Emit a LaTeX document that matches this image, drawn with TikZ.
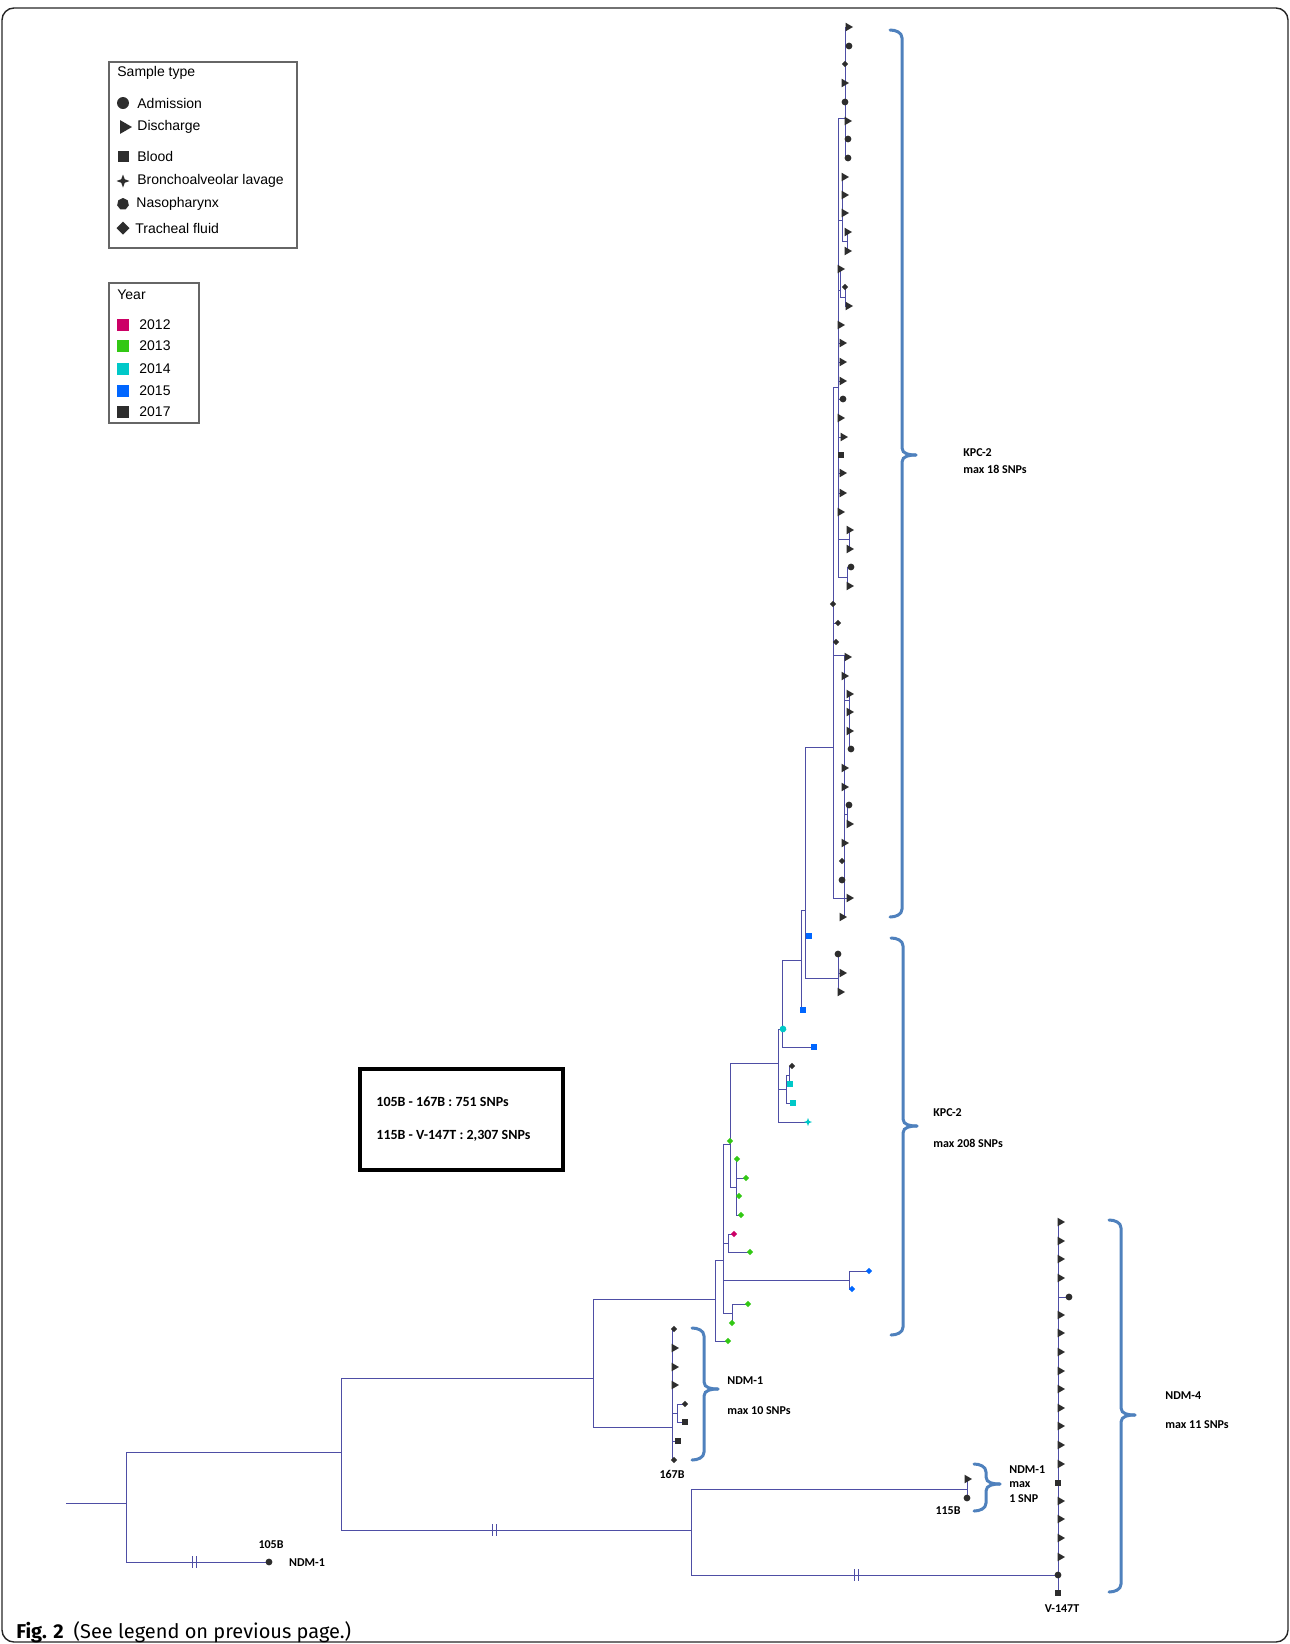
\documentclass[tikz,border=0pt]{standalone}
\usepackage{fontspec}
\setmainfont{Liberation Sans}
\newfontfamily\lblfont{Carlito}
\newfontfamily\capfont{Fira Sans}
\usepackage{tikz}
\usetikzlibrary{shapes.geometric}
\usetikzlibrary{calc,backgrounds}

\definecolor{branch}{RGB}{78,78,165}
\definecolor{bracecol}{RGB}{79,129,189}
\definecolor{c12}{RGB}{204,0,102}
\definecolor{c13}{RGB}{50,200,20}
\definecolor{c14}{RGB}{0,200,200}
\definecolor{c15}{RGB}{0,102,255}
\definecolor{c17}{RGB}{45,45,45}

\tikzset{
  br/.style={draw=branch, line width=0.5pt},
  brc/.style={draw=bracecol, line width=1.5pt, line cap=round},
  leaf/.style={inner sep=0pt, outer sep=0pt, draw=none, fill=c17},
  dis/.style={leaf, regular polygon, regular polygon sides=3, shape border rotate=-90, minimum size=#1},
  dis/.default=5pt,
  adm/.style={leaf, circle, minimum size=#1},
  adm/.default=3.4pt,
  trf/.style={leaf, diamond, minimum size=#1},
  trf/.default=3.2pt,
  bld/.style={leaf, rectangle, minimum size=#1},
  bld/.default=3.3pt,
  nas/.style={leaf, regular polygon, regular polygon sides=7, minimum size=#1},
  nas/.default=3.4pt,
  bal/.style={leaf, star, star points=4, star point ratio=2.6, minimum size=#1},
  bal/.default=4pt,
  dg/.style={trf, fill=c13},
  dr/.style={trf, fill=c12},
  db/.style={trf, fill=c15},
  sqb/.style={bld, fill=c15},
  sqc/.style={bld, fill=c14},
  hxc/.style={nas, fill=c14},
  plc/.style={bal, fill=c14},
  lgbox/.style={draw=black!60, line width=0.7pt},
  lgtxt/.style={anchor=west, inner sep=0pt, font=\fontsize{7}{8}\selectfont},
  lbl/.style={anchor=west, inner sep=0pt, font=\lblfont\bfseries\fontsize{6}{7}\selectfont},
}

% curly bracket: x of the bar, top, middle, bottom
\newcommand{\snpbrace}[4]{%
  \draw[brc] (#1-12,#2) to[out=0,in=90] (#1,#2+8) -- (#1,#3-7) to[out=-90,in=180] (#1+14,#3);
  \draw[brc] (#1+14,#3) to[out=180,in=90] (#1,#3+7) -- (#1,#4-8) to[out=-90,in=0] (#1-12,#4);
}
% break mark on a long branch
\newcommand{\brk}[2]{%
  \draw[br] (#1-2,#2-6) -- (#1-2,#2+6) (#1+2,#2-6) -- (#1+2,#2+6);
}

\begin{document}
\begin{tikzpicture}[x=0.5pt, y=-0.5pt]
\useasboundingbox (0,0) rectangle (1290,1644);
\draw[black!85, line width=0.7pt, rounded corners=6pt] (2,8) rectangle (1288,1642);

% legends
\draw[lgbox] (109,62) rectangle (297,248);
\node[lgtxt] (st) at (117,73) {Sample type};
\node[adm=6pt] (lg1) at (123,103) {};
\node[lgtxt] at (137,103) {Admission};
\node[dis=8pt] (lg2) at (124,127) {};
\node[lgtxt] at (137,127) {Discharge};
\node[bld=5.5pt] (lg3) at (123,156) {};
\node[lgtxt] at (137,156) {Blood};
\node[bal=6.5pt] (lg4) at (123,181) {};
\node[lgtxt] at (137,181) {Bronchoalveolar lavage};
\node[nas=6pt] (lg5) at (123,204) {};
\node[lgtxt] at (136,204) {Nasopharynx};
\node[trf=6.5pt] (lg6) at (123,228) {};
\node[lgtxt] at (135,228) {Tracheal fluid};

\draw[lgbox] (109,283) rectangle (199,423);
\node[lgtxt] (yr) at (117,295) {Year};
\foreach \c/\t/\y in {c12/2012/325, c13/2013/346, c14/2014/369, c15/2015/391, c17/2017/412} {
  \node[leaf, fill=\c, minimum size=6pt] (yr\t) at (123,\y) {};
  \node[lgtxt] at (139,\y) {\t};
}

% distances
\draw[black, line width=2pt] (360,1069) rectangle (563,1170);
\node[anchor=west, inner sep=0pt, font=\lblfont\bfseries\fontsize{7}{8}\selectfont] (d1) at (376,1102) {105B - 167B : 751 SNPs};
\node[anchor=west, inner sep=0pt, font=\lblfont\bfseries\fontsize{7}{8}\selectfont] (d2) at (376,1136) {115B - V-147T : 2,307 SNPs};

% inner nodes
\coordinate (start) at (66,1503);
\coordinate (root) at (126,1503);
\coordinate (a1) at (341,1452);
\coordinate (a2) at (593,1378);
\coordinate (a3) at (691,1530);
\coordinate (n167) at (672,1427);
\coordinate (kA) at (715,1299);
\coordinate (kB) at (723,1260);
\coordinate (kC) at (730,1144);
\coordinate (kO) at (736,1187);
\coordinate (kR) at (728,1243);
\coordinate (kBl) at (849,1280);
\coordinate (kD) at (732,1313);
\coordinate (kE) at (778,1063);
\coordinate (kN) at (782,1029);
\coordinate (kF) at (786,1089);
\coordinate (kF2) at (789,1075);
\coordinate (kG) at (801,960);
\coordinate (kH) at (805,910);
\coordinate (kI) at (838,978);
\coordinate (kJ) at (833,747);
\coordinate (kK) at (838,387);
\coordinate (kK1) at (845,118);
\coordinate (kK2) at (842,220);
\coordinate (kK2b) at (847,241);
\coordinate (kK3) at (840,290);
\coordinate (kK3b) at (845,297);
\coordinate (kK4) at (849,539);
\coordinate (kK5) at (847,577);
\coordinate (kM) at (844,655);
\coordinate (kM1) at (849,700);
\coordinate (kM2) at (847,814);
\coordinate (kQ) at (677,1413);
\coordinate (n115) at (967,1489);
\coordinate (nV) at (1058,1575);

\draw[br] (start) -- (root);
\foreach \p/\c in {root/a1, a1/a2, a1/a3, a2/n167, a2/kA, kA/kB, kB/kC, kB/kR, kB/kBl, kB/kD,
    kC/kE, kC/kO, kE/kN, kE/kF, kF/kF2, kN/kG, kG/kH, kH/kJ, kH/kI, kJ/kK, kJ/kM,
    kK/kK1, kK/kK2, kK2/kK2b, kK/kK3, kK3/kK3b, kK/kK4, kK/kK5, kM/kM1, kM/kM2,
    n167/kQ, a3/n115, a3/nV}
  \draw[br] (\p) |- (\c);

% leaves
\foreach \p/\x/\y/\s [count=\i] in {
    kK1/848/27/dis, kK1/849/46/adm, kK1/845/64/trf, kK1/844/83/dis, kK1/845/102/adm,
    kK1/847/121/dis, kK1/848/139/adm, kK1/848/158/adm,
    kK2/844/177/dis, kK2/844/195/dis, kK2/844/213/dis, kK2b/847/232/dis, kK2b/847/251/dis,
    kK3/840/269/dis, kK3b/845/287/trf, kK3b/848/306/dis,
    kK/840/325/dis, kK/842/343/dis, kK/842/362/dis, kK/842/381/dis, kK/843/399/adm,
    kK/840/418/dis, kK/843/437/dis, kK/841/455/bld, kK/842/473/dis, kK/842/493/dis, kK/840/512/dis,
    kK4/849/530/dis, kK4/849/549/dis, kK5/851/567/adm, kK5/849/586/dis,
    kJ/833/604/trf, kJ/838/623/trf, kJ/836/642/trf,
    kM/847/657/dis, kM/844/676/dis, kM1/849/694/dis, kM1/849/712/dis, kM1/849/731/dis,
    kM1/851/749/adm, kM/844/768/dis, kM/844/787/dis, kM2/849/805/adm, kM2/849/824/dis,
    kM/844/843/dis, kM/842/861/trf, kM/842/880/adm, kJ/849/898/dis, kM/842/917/dis,
    kI/838/954/adm, kI/842/973/dis, kI/840/992/dis,
    kH/809/936/sqb, kG/803/1010/sqb, kN/783/1029/hxc, kN/814/1047/sqb,
    kF2/792/1066/trf, kF2/790/1084/sqc, kF/793/1103/sqc, kE/808/1122/plc,
    kC/730/1141/dg, kO/737/1159/dg, kO/746/1178/dg, kO/739/1196/dg, kO/741/1215/dg,
    kR/734/1234/dr, kR/750/1252/dg, kBl/869/1271/db, kBl/852/1289/db,
    kD/748/1304/dg, kD/732/1323/dg, kA/728/1341/dg,
    n167/674/1329/trf, n167/674/1348/dis, n167/674/1367/dis, n167/674/1385/dis,
    kQ/685/1404/trf, kQ/685/1422/bld, n167/678/1441/bld, n167/674/1460/trf,
    n115/967/1479/dis, n115/967/1498/adm, root/269/1562/adm,
    nV/1060/1222/dis, nV/1060/1241/dis, nV/1060/1259/dis, nV/1060/1278/dis, nV/1069/1297/adm,
    nV/1060/1315/dis, nV/1060/1333/dis, nV/1060/1352/dis, nV/1060/1371/dis, nV/1060/1389/dis,
    nV/1060/1408/dis, nV/1060/1426/dis, nV/1060/1445/dis, nV/1060/1464/dis, nV/1058/1483/bld,
    nV/1060/1501/dis, nV/1060/1519/dis, nV/1060/1538/dis, nV/1060/1557/dis, nV/1058/1575/adm,
    nV/1058/1593/bld} {
  \node[\s] (lf\i) at (\x,\y) {};
  \begin{scope}[on background layer]
    \draw[br] (\p) |- (lf\i.center);
  \end{scope}
}

\brk{194}{1562}
\brk{494}{1530}
\brk{856}{1575}

% clusters
\snpbrace{902}{30}{455}{917}
\node[lbl] (kpc1) at (963,453) {KPC-2};
\node[lbl] at (963,469) {max 18 SNPs};
\snpbrace{903}{938}{1126}{1335}
\node[lbl] (kpc2) at (933,1113) {KPC-2};
\node[lbl] at (933,1143) {max 208 SNPs};
\snpbrace{704}{1328}{1389}{1460}
\node[lbl] (ndm1) at (727,1381) {NDM-1};
\node[lbl] at (727,1411) {max 10 SNPs};
\snpbrace{1121}{1220}{1415}{1592}
\node[lbl] (ndm4) at (1165,1396) {NDM-4};
\node[lbl] at (1165,1425) {max 11 SNPs};
\snpbrace{986}{1464}{1484}{1511}
\node[lbl] (ndm1b) at (1009,1470) {NDM-1};
\node[lbl] at (1009,1485) {max};
\node[lbl] at (1009,1499) {1 SNP};

\node[lbl, anchor=center] (s167) at (672,1474) {167B};
\node[lbl, anchor=center] (s115) at (948,1511) {115B};
\node[lbl, anchor=center] (s105) at (271,1545) {105B};
\node[lbl, anchor=center] at (307,1563) {NDM-1};
\node[lbl, anchor=center] (sV) at (1062,1609) {V-147T};

\node[anchor=west, inner sep=0pt, font=\capfont\fontsize{10}{12}\selectfont] (cap) at (16,1632) {\textbf{Fig. 2}\hspace{5pt}(See legend on previous page.)};
\end{tikzpicture}
\end{document}
